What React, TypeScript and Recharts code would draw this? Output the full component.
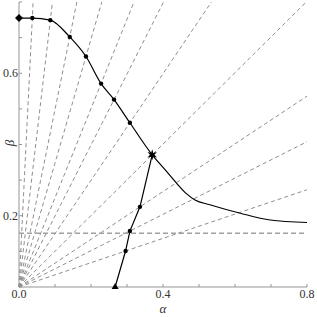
import {
  ComposedChart,
  Line,
  Scatter,
  XAxis,
  YAxis,
} from 'recharts';

// upper curve (solid black)
const upperX = [0, 0.037, 0.087, 0.141, 0.186, 0.228, 0.264, 0.308, 0.37, 0.405, 0.438, 0.465, 0.489, 0.53, 0.615, 0.698, 0.8];
const upperY = [0.755, 0.755, 0.749, 0.702, 0.647, 0.571, 0.526, 0.461, 0.371, 0.33, 0.291, 0.262, 0.244, 0.231, 0.207, 0.188, 0.181];

// lower branch from the triangle up to the star
const lowerX = [0.267, 0.296, 0.308, 0.336, 0.37];
const lowerY = [0, 0.101, 0.157, 0.225, 0.371];

// dots on the curves (each one has a dashed ray from the origin)
const dotX = [0.037, 0.087, 0.141, 0.186, 0.228, 0.264, 0.308, 0.296, 0.308, 0.336];
const dotY = [0.755, 0.749, 0.702, 0.647, 0.571, 0.526, 0.461, 0.101, 0.157, 0.225];

const startPt = { x: 0, y: 0.755 };
const starPt = { x: 0.37, y: 0.371 };
const trianglePt = { x: 0.267, y: 0 };

const hLevel = 0.151;

const xTicks = [0, 0.1, 0.2, 0.3, 0.4, 0.5, 0.6, 0.7, 0.8];
const yTicks = [0, 0.1, 0.2, 0.3, 0.4, 0.5, 0.6, 0.7, 0.8];
const xLabels = [0, 0.4, 0.8];
const yLabels = [0.2, 0.6];

const MAX = 0.8;
const GREY = '#959595';
const DASH = '#8e8e8e';
const FONT = '"Liberation Serif", "DejaVu Serif", serif';

const upperData = upperX.map((x, i) => ({ x, y: upperY[i] }));
const lowerData = lowerX.map((x, i) => ({ x, y: lowerY[i] }));
const dotData = dotX.map((x, i) => ({ x, y: dotY[i] }));

// ray from the origin through a point, cut at the frame
function ray(p: { x: number; y: number }) {
  const s = p.y / p.x;
  const end = s >= 1 ? { x: MAX / s, y: MAX } : { x: MAX, y: MAX * s };
  return [{ x: 0, y: 0 }, end];
}
const rays = [...dotData, starPt].map(ray);

const fmt = (v: number) => v.toFixed(1);

function BottomTick(props: any) {
  const { x, y, payload } = props;
  const v = payload.value;
  return (
    <g>
      <line x1={x} y1={y} x2={x} y2={y - 3} stroke={GREY} />
      {xLabels.some((l) => Math.abs(l - v) < 1e-6) && (
        <text x={x} y={y + 11} textAnchor="middle" fontSize={12} fill="#333" fontFamily={FONT}>
          {fmt(v)}
        </text>
      )}
    </g>
  );
}

function LeftTick(props: any) {
  const { x, y, payload } = props;
  const v = payload.value;
  return (
    <g>
      <line x1={x} y1={y} x2={x + 3} y2={y} stroke={GREY} />
      {yLabels.some((l) => Math.abs(l - v) < 1e-6) && (
        <text x={x - 1} y={y + 4} textAnchor="end" fontSize={12} fill="#333" fontFamily={FONT}>
          {fmt(v)}
        </text>
      )}
    </g>
  );
}

function TopTick(props: any) {
  const { x, y } = props;
  return <line x1={x} y1={y} x2={x} y2={y + 3} stroke={GREY} />;
}

function RightTick(props: any) {
  const { x, y } = props;
  return <line x1={x} y1={y} x2={x - 3} y2={y} stroke={GREY} />;
}

const Dot = (p: any) => <circle cx={p.cx} cy={p.cy} r={2.2} fill="#000" />;
const Diamond = (p: any) => (
  <path d={`M${p.cx - 4},${p.cy} L${p.cx},${p.cy - 4} L${p.cx + 4},${p.cy} L${p.cx},${p.cy + 4} Z`} fill="#000" />
);
const Triangle = (p: any) => (
  <path d={`M${p.cx},${p.cy - 4} L${p.cx + 3.5},${p.cy + 2} L${p.cx - 3.5},${p.cy + 2} Z`} fill="#000" />
);
const Star = (p: any) => {
  const pts: string[] = [];
  for (let i = 0; i < 12; i++) {
    const r = i % 2 === 0 ? 5.5 : 2.2;
    const a = (Math.PI / 6) * i - Math.PI / 2;
    pts.push(`${p.cx + r * Math.cos(a)},${p.cy + r * Math.sin(a)}`);
  }
  return <polygon points={pts.join(' ')} fill="#000" />;
};

const alphaLabel = (p: any) => {
  const vb = p.viewBox;
  return (
    <text x={vb.x + vb.width / 2} y={313} textAnchor="middle" fontSize={13} fontStyle="italic" fill="#333" fontFamily={FONT}>
      α
    </text>
  );
};

const betaLabel = (p: any) => {
  const vb = p.viewBox;
  const cy = 143;
  return (
    <text x={9} y={cy} transform={`rotate(-90 9 ${cy})`} textAnchor="middle" dominantBaseline="central"
      fontSize={13} fontStyle="italic" fill="#333" fontFamily={FONT}>
      β
    </text>
  );
};

export default function App() {
  return (
    <div style={{ position: 'fixed', left: 0, top: 0, width: 317, height: 317, background: '#fff' }}>
      <ComposedChart width={317} height={317} margin={{ top: 2, right: 10, bottom: 0, left: 0 }}>
        <XAxis
          type="number"
          dataKey="x"
          domain={[0, MAX]}
          ticks={xTicks}
          interval={0}
          height={30}
          stroke={GREY}
          tickLine={false}
          tickSize={0}
          tickMargin={0}
          tick={<BottomTick />}
          label={alphaLabel}
        />
        <XAxis xAxisId="top" orientation="top" type="number" domain={[0, MAX]} ticks={xTicks} interval={0} height={0}
          stroke={GREY} tickLine={false} tickSize={0} tickMargin={0} tick={<TopTick />} />
        <YAxis
          type="number"
          dataKey="y"
          domain={[0, MAX]}
          ticks={yTicks}
          interval={0}
          width={19}
          stroke={GREY}
          tickLine={false}
          tickSize={0}
          tickMargin={0}
          tick={<LeftTick />}
          label={betaLabel}
        />
        <YAxis yAxisId="right" orientation="right" type="number" domain={[0, MAX]} ticks={yTicks} interval={0} width={0}
          stroke={GREY} tickLine={false} tickSize={0} tickMargin={0} tick={<RightTick />} />

        {rays.map((r, i) => (
          <Line key={`ray${i}`} data={r} dataKey="y" type="linear" stroke={DASH} strokeWidth={1}
            strokeDasharray="4 3" dot={false} activeDot={false} isAnimationActive={false} />
        ))}
        <Line data={[{ x: 0, y: hLevel }, { x: MAX, y: hLevel }]} dataKey="y" type="linear" stroke="#a0a0a0"
          strokeWidth={1.6} strokeDasharray="5 3" dot={false} activeDot={false} isAnimationActive={false} />

        <Line data={upperData} dataKey="y" type="monotone" stroke="#000" strokeWidth={1.2}
          dot={false} activeDot={false} isAnimationActive={false} />
        <Line data={lowerData} dataKey="y" type="linear" stroke="#000" strokeWidth={1.2}
          dot={false} activeDot={false} isAnimationActive={false} />

        <Scatter data={dotData} dataKey="y" shape={Dot} isAnimationActive={false} />
        <Scatter data={[startPt]} dataKey="y" shape={Diamond} isAnimationActive={false} />
        <Scatter data={[trianglePt]} dataKey="y" shape={Triangle} isAnimationActive={false} />
        <Scatter data={[starPt]} dataKey="y" shape={Star} isAnimationActive={false} />
      </ComposedChart>
    </div>
  );
}
